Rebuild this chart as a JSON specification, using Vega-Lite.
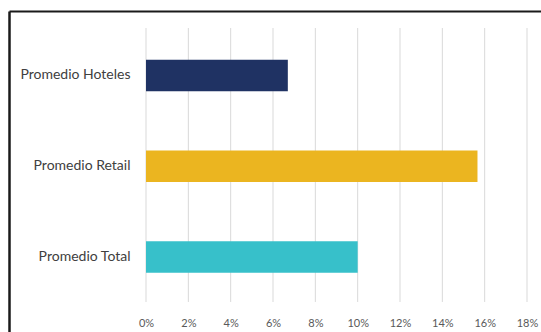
{
  "$schema": "https://vega.github.io/schema/vega-lite/v6.json",
  "autosize": "none",
  "padding": {"left": 9, "top": 11, "right": 0, "bottom": 0},
  "width": 532,
  "height": 321,
  "background": "#ffffff",
  "datasets": {
    "barras": [
      {"categoria": "Promedio Hoteles", "valor": 0.067},
      {"categoria": "Promedio Retail", "valor": 0.1566},
      {"categoria": "Promedio Total", "valor": 0.100}
    ],
    "rejilla": [
      {"v": 0}, {"v": 0.02}, {"v": 0.04}, {"v": 0.06}, {"v": 0.08},
      {"v": 0.1}, {"v": 0.12}, {"v": 0.14}, {"v": 0.16}, {"v": 0.18}
    ]
  },
  "layer": [
    {
      "data": {"name": "rejilla"},
      "mark": {"type": "rule", "color": "#d9d9d9", "strokeWidth": 1},
      "encoding": {
        "x": {"field": "v", "type": "quantitative", "axis": null},
        "y": {"datum": 0, "type": "quantitative", "scale": {"domain": [-0.1095, 1.062], "nice": false, "zero": false}, "axis": null},
        "y2": {"datum": 1}
      }
    },
    {
      "data": {"name": "barras"},
      "mark": {"type": "bar"},
      "encoding": {
        "x": {
          "field": "valor",
          "type": "quantitative",
          "scale": {"domain": [-0.06473, 0.18661], "nice": false, "zero": false},
          "axis": {
            "orient": "bottom",
            "title": null,
            "values": [0, 0.02, 0.04, 0.06, 0.08, 0.1, 0.12, 0.14, 0.16, 0.18],
            "format": ".0%",
            "domain": false,
            "ticks": false,
            "grid": false,
            "labelFlush": false,
            "labelOverlap": false,
            "labelPadding": -15,
            "labelFont": "Lato",
            "labelFontSize": 11,
            "labelColor": "#595959"
          }
        },
        "y": {
          "field": "categoria",
          "type": "nominal",
          "sort": null,
          "scale": {"paddingInner": 0.653, "paddingOuter": 0.595, "align": 0.451},
          "axis": {
            "title": null,
            "domain": true,
            "domainColor": "#1a1a1a",
            "domainWidth": 2.5,
            "ticks": false,
            "grid": false,
            "labelPadding": -121,
            "labelFont": "Lato",
            "labelFontSize": 14,
            "labelColor": "#404040"
          }
        },
        "color": {
          "field": "categoria",
          "type": "nominal",
          "legend": null,
          "scale": {
            "domain": ["Promedio Hoteles", "Promedio Retail", "Promedio Total"],
            "range": ["#1f3263", "#ebb520", "#37c0ca"]
          }
        }
      }
    },
    {
      "data": {"name": "barras"},
      "mark": {"type": "bar", "opacity": 0},
      "encoding": {
        "x": {
          "field": "valor",
          "type": "quantitative",
          "axis": {
            "orient": "top",
            "title": null,
            "domain": true,
            "domainColor": "#1a1a1a",
            "domainWidth": 2,
            "labels": false,
            "ticks": false,
            "grid": false
          }
        },
        "y": {
          "field": "categoria",
          "type": "nominal",
          "sort": null,
          "axis": null
        }
      }
    }
  ],
  "resolve": {
    "scale": {"y": "independent"},
    "axis": {"x": "independent", "y": "independent"}
  },
  "config": {"view": {"stroke": null}}
}
